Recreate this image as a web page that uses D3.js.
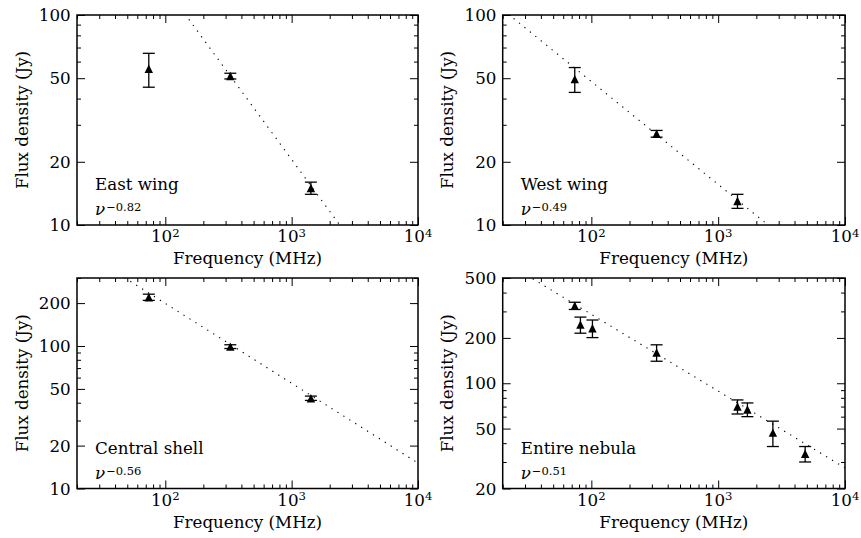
<!DOCTYPE html>
<html>
<head>
<meta charset="utf-8">
<script src="https://cdn.jsdelivr.net/npm/d3@7"></script>
</head>
<body style="margin:0;padding:0;background:#fff">
<svg id="chart" width="861" height="538" style="display:block"></svg>
<script>
// Frequency axis shared by every panel (MHz)
const freqDomain = [20, 10000];
const freqMajor = [100, 1000, 10000];

// East wing
const eastFreq = [74, 327, 1420];
const eastFlux = [55.5, 51.2, 15.0];
const eastErr = [10.2, 1.6, 1.0];
const eastIndex = -0.82;
const eastS1000 = 20.5;

// West wing
const westFreq = [74, 327, 1420];
const westFlux = [49.5, 27.2, 13.0];
const westErr = [6.7, 1.0, 1.0];
const westIndex = -0.49;
const westS1000 = 15.6;

// Central shell
const shellFreq = [74, 327, 1420];
const shellFlux = [220, 99, 43];
const shellErr = [11, 3, 1.5];
const shellIndex = -0.56;
const shellS1000 = 54.8;

// Entire nebula
const nebFreq = [74, 82, 102, 327, 1420, 1700, 2700, 4850];
const nebFlux = [327, 245, 232, 160, 70, 67, 47, 34];
const nebErr = [18, 30, 31, 20, 7.5, 7, 9, 4];
const nebIndex = -0.51;
const nebS1000 = 88.7;

// Flux axis ranges and labelled ticks
const yDomTop = [10, 100];
const yMajorTop = [10, 20, 50, 100];
const yDomShell = [10, 300];
const yMajorShell = [10, 20, 50, 100, 200];
const yDomNeb = [20, 500];
const yMajorNeb = [20, 50, 100, 200, 500];

const panelNames = ["East wing", "West wing", "Central shell", "Entire nebula"];

const panels = [
  { name: panelNames[0], freq: eastFreq, flux: eastFlux, err: eastErr, index: eastIndex, s1000: eastS1000,
    yDom: yDomTop, yMajor: yMajorTop, left: 77, top: 15, right: 418, bottom: 225 },
  { name: panelNames[1], freq: westFreq, flux: westFlux, err: westErr, index: westIndex, s1000: westS1000,
    yDom: yDomTop, yMajor: yMajorTop, left: 502.7, top: 15, right: 845, bottom: 225 },
  { name: panelNames[2], freq: shellFreq, flux: shellFlux, err: shellErr, index: shellIndex, s1000: shellS1000,
    yDom: yDomShell, yMajor: yMajorShell, left: 77, top: 278, right: 418, bottom: 488.5 },
  { name: panelNames[3], freq: nebFreq, flux: nebFlux, err: nebErr, index: nebIndex, s1000: nebS1000,
    yDom: yDomNeb, yMajor: yMajorNeb, left: 502.7, top: 278, right: 845, bottom: 488.5 }
];

const svg = d3.select("#chart");
const FONT = '"DejaVu Serif"';
const FS = 16.7;

// text helper: every label in the serif face
const label = (sel, size) => sel.append("text")
  .style("font-family", FONT)
  .style("font-size", size + "px")
  .attr("fill", "#000");

panels.forEach((p, i) => {
  const w = p.right - p.left, h = p.bottom - p.top;
  const g = svg.append("g").attr("transform", `translate(${p.left},${p.top})`);
  const x = d3.scaleLog().domain(freqDomain).range([0, w]);
  const y = d3.scaleLog().domain(p.yDom).range([h, 0]);

  const xMinor = x.ticks().filter(v => !freqMajor.some(m => Math.abs(m - v) < 1e-6));
  const yMinor = y.ticks().filter(v => !p.yMajor.some(m => Math.abs(m - v) < 1e-6));

  const clipId = "clip" + i;
  g.append("clipPath").attr("id", clipId)
    .append("rect").attr("width", w).attr("height", h);

  // inward ticks on all four sides
  const tickStyle = sel => {
    sel.select(".domain").remove();
    sel.selectAll(".tick line").attr("stroke", "#000").attr("stroke-width", 1);
    sel.selectAll(".tick text").remove();
  };
  const addAxis = (axisFn, scale, vals, size, tr) => {
    g.append("g").attr("transform", tr)
      .call(axisFn(scale).tickValues(vals).tickSize(-size).tickFormat(""))
      .call(tickStyle);
  };
  addAxis(d3.axisBottom, x, freqMajor, 8, `translate(0,${h})`);
  addAxis(d3.axisBottom, x, xMinor, 4, `translate(0,${h})`);
  addAxis(d3.axisTop, x, freqMajor, 8, `translate(0,0)`);
  addAxis(d3.axisTop, x, xMinor, 4, `translate(0,0)`);
  addAxis(d3.axisLeft, y, p.yMajor, 8, `translate(0,0)`);
  addAxis(d3.axisLeft, y, yMinor, 4, `translate(0,0)`);
  addAxis(d3.axisRight, y, p.yMajor, 8, `translate(${w},0)`);
  addAxis(d3.axisRight, y, yMinor, 4, `translate(${w},0)`);

  // x tick labels as powers of ten
  freqMajor.forEach(v => {
    const t = label(g, FS).attr("x", x(v)).attr("y", h + 17).attr("text-anchor", "middle");
    t.append("tspan").text("10");
    t.append("tspan").attr("dy", -5.3).style("font-size", "11.7px")
      .text(String(Math.round(Math.log10(v))));
  });

  // y tick labels
  p.yMajor.forEach(v => {
    label(g, FS).attr("x", -6.3).attr("y", y(v) + 6.1)
      .attr("text-anchor", "end").text(v);
  });

  // axis titles
  label(g, FS).attr("x", w / 2).attr("y", h + 39.3)
    .attr("text-anchor", "middle").text("Frequency (MHz)");
  label(g, FS).attr("transform", `translate(-49.3,${h / 2}) rotate(-90)`)
    .attr("text-anchor", "middle").text("Flux density (Jy)");

  // power-law fit
  const fit = f => p.s1000 * Math.pow(f / 1000, p.index);
  g.append("path")
    .attr("clip-path", `url(#${clipId})`)
    .attr("d", d3.line().x(f => x(f)).y(f => y(fit(f)))(freqDomain))
    .attr("fill", "none").attr("stroke", "#000")
    .attr("stroke-width", 1.1)
    .attr("stroke-dasharray", "1.3,5.7");

  // error bars
  const pts = p.freq.map((f, k) => ({ f, s: p.flux[k], e: p.err[k] }));
  const eb = g.append("g").attr("stroke", "#000").attr("stroke-width", 1.3);
  pts.forEach(d => {
    const cx = x(d.f), y1 = y(d.s + d.e), y0 = y(d.s - d.e);
    eb.append("line").attr("x1", cx).attr("x2", cx).attr("y1", y1).attr("y2", y0);
    eb.append("line").attr("x1", cx - 6).attr("x2", cx + 6).attr("y1", y1).attr("y2", y1);
    eb.append("line").attr("x1", cx - 6).attr("x2", cx + 6).attr("y1", y0).attr("y2", y0);
  });

  // triangle markers
  g.append("g").selectAll("path").data(pts).join("path")
    .attr("transform", d => `translate(${x(d.f)},${y(d.s)})`)
    .attr("d", "M0,-4.2L4.2,4.2L-4.2,4.2Z")
    .attr("fill", "#000");

  // frame
  g.append("rect").attr("width", w).attr("height", h)
    .attr("fill", "none").attr("stroke", "#000").attr("stroke-width", 1.5);

  // region name and spectral index
  label(g, FS).attr("x", 18).attr("y", h - 35).text(p.name);
  const nu = label(g, FS).attr("x", 18).attr("y", h - 10);
  nu.append("tspan").style("font-style", "italic").text("ν");
  nu.append("tspan").attr("dy", -4).attr("dx", 1).style("font-size", "11.5px")
    .text("−" + Math.abs(p.index).toFixed(2));
});
</script>
</body>
</html>
